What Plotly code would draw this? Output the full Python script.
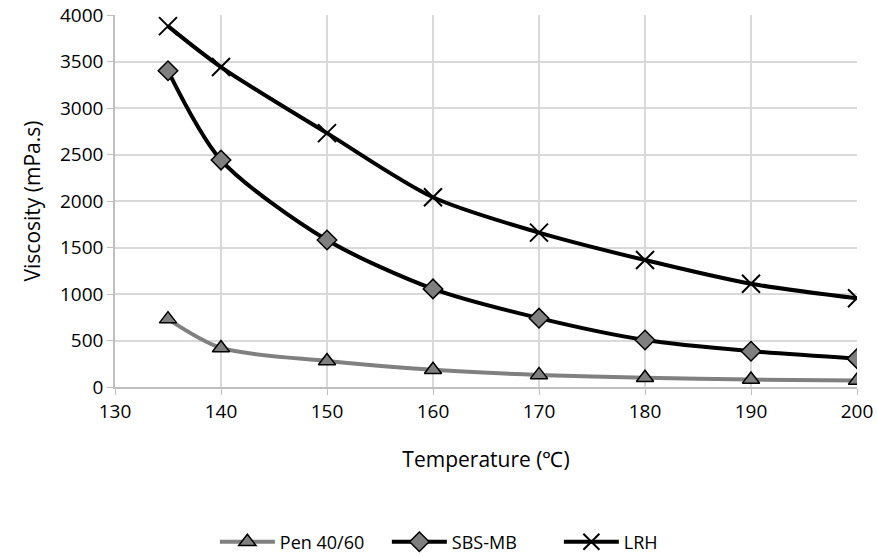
import plotly.graph_objects as go

temperature = [135, 140, 150, 160, 170, 180, 190, 200]
pen_4060 = [730, 420, 280, 185, 130, 100, 80, 70]
sbs_mb = [3400, 2440, 1580, 1055, 740, 505, 385, 305]
lrh = [3880, 3440, 2730, 2040, 1660, 1365, 1110, 955]

fig = go.Figure()

fig.add_trace(go.Scatter(
    x=temperature, y=pen_4060, name='Pen 40/60',
    mode='lines+markers', line=dict(color='#808080', width=4, shape='spline', smoothing=0.8),
    marker=dict(symbol='triangle-up', size=15, color='#7f7f7f',
                line=dict(color='black', width=1.5))))

fig.add_trace(go.Scatter(
    x=temperature, y=sbs_mb, name='SBS-MB',
    mode='lines+markers', line=dict(color='black', width=4, shape='spline', smoothing=0.8),
    marker=dict(symbol='diamond', size=15, color='#7f7f7f',
                line=dict(color='black', width=1.5))))

fig.add_trace(go.Scatter(
    x=temperature, y=lrh, name='LRH',
    mode='lines+markers', line=dict(color='black', width=4, shape='spline', smoothing=0.8),
    marker=dict(symbol='x-thin-open', size=18, color='black',
                line=dict(color='black', width=2))))

fig.update_layout(
    width=877, height=556,
    paper_bgcolor='white', plot_bgcolor='white',
    font=dict(family='Open Sans', size=19, color='black'),
    margin=dict(l=115, r=20, t=15, b=169, autoexpand=False),
    legend=dict(orientation='h', x=0.245, xanchor='left', xref='container',
                y=0.025, yanchor='middle', yref='container',
                font=dict(size=18), itemwidth=55,
                entrywidth=102, entrywidthmode='pixels'),
    showlegend=True,
)

fig.update_xaxes(
    range=[130, 200], dtick=10, showgrid=True, gridcolor='#d9d9d9', gridwidth=1.5,
    showline=True, linecolor='#bfbfbf', linewidth=1.5,
    ticks='outside', ticklen=6, tickcolor='#bfbfbf', zeroline=False,
    tickfont=dict(size=19),
    title=dict(text='Temperature (℃)', font=dict(size=21), standoff=30))

fig.update_yaxes(
    range=[0, 4000], dtick=500, showgrid=True, gridcolor='#d9d9d9', gridwidth=1.5,
    showline=True, linecolor='#bfbfbf', linewidth=1.5,
    ticks='outside', ticklen=6, tickcolor='#bfbfbf', zeroline=False,
    tickfont=dict(size=19),
    title=dict(text='Viscosity (mPa.s)', font=dict(size=21), standoff=14))

# drop the browser's default body margin so the figure fills the window
fig.write_html("out.html", config={'displayModeBar': False},
               post_script="document.body.style.margin='0px';")
